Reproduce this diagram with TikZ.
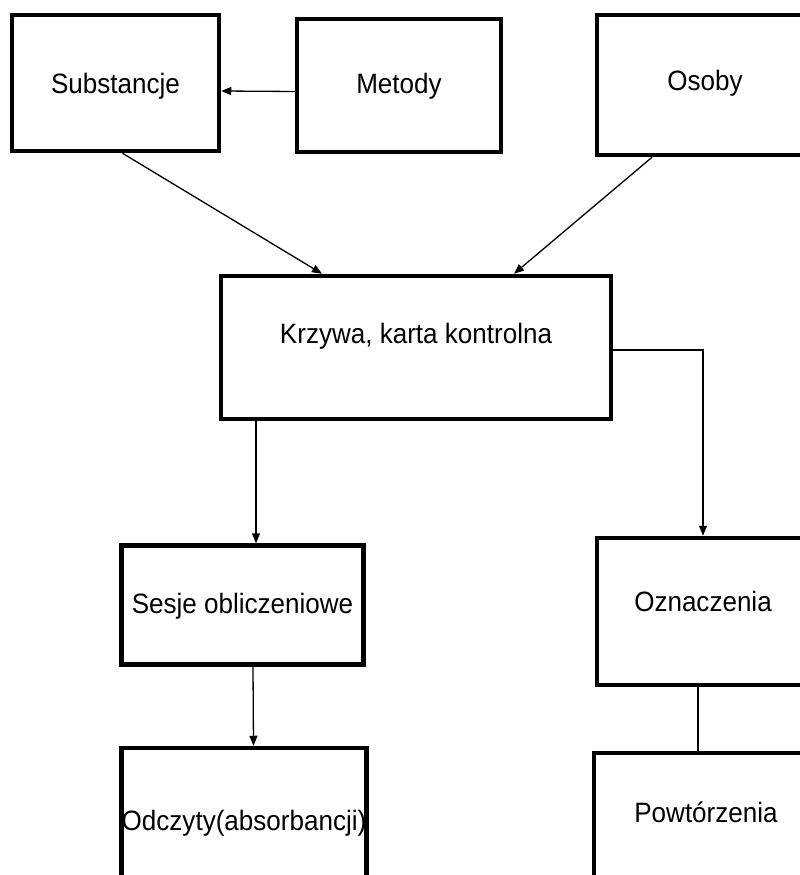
\documentclass[tikz,border=0pt]{standalone}
\usepackage{fontspec}
\newfontfamily\boxfont[FakeStretch=0.93]{Liberation Sans}
\usepackage{tikz}
\usetikzlibrary{arrows.meta}
\newcommand{\frameth}{4.5pt}
\newcommand{\linkth}{1.3pt}
\tikzset{
  box/.style={draw, line width=\frameth, rectangle, inner sep=0pt,
    font=\boxfont\fontsize{28}{30}\selectfont, text height=20pt, text depth=0pt},
  arr/.style={line width=\linkth, -{Triangle[length=10pt,width=8pt]}},
  plain/.style={line width=\linkth}
}

\begin{document}
\begin{tikzpicture}[x=1pt, y=-1pt]
\useasboundingbox (0,0) rectangle (800,875);
\fill[white] (0,0) rectangle (800,875);
\clip (0,0) rectangle (800,875);
%top row
\node[box] (subst) at (115.5, 83) [minimum width=207pt, minimum height=136pt] {Substancje};
\node[box] (metody) at (399, 85.5) [minimum width=204pt, minimum height=133pt, text depth=5pt] {Metody};
\node[box] (osoby) at (705, 85) [minimum width=216pt, minimum height=140pt, text depth=10pt] {Osoby};
%middle
\node[box] (krzywa) at (416, 347.5) [minimum width=390pt, minimum height=143pt, text depth=29pt] {Krzywa, karta kontrolna};
%left column
\node[box] (sesje) at (242.5, 605) [minimum width=242pt, minimum height=119pt, text depth=4pt] {Sesje obliczeniowe};
\node[box] (odczyty) at (244, 820) [minimum width=245pt, minimum height=144pt] {Odczyty(absorbancji)};
%right column
\node[box] (oznacz) at (703, 611.5) [minimum width=212pt, minimum height=147pt, text depth=20pt] {Oznaczenia};
\node[box] (powt) at (706, 833) [minimum width=224pt, minimum height=160pt, text depth=42pt] {Powtórzenia};
%links
\draw[arr] ([yshift=-6pt]metody.west) -- ([yshift=-8pt]subst.east);
\draw[arr] ([xshift=7pt]subst.south) -- ([xshift=-94pt]krzywa.north);
\draw[arr] ([xshift=-53pt]osoby.south) -- ([xshift=98pt]krzywa.north);
\draw[arr] ([yshift=-2.5pt]krzywa.east) -| (oznacz.north);
\draw[arr] ([xshift=-160pt]krzywa.south) -- ([xshift=13.5pt]sesje.north);
\draw[arr] ([xshift=10.5pt]sesje.south) -- ([xshift=9.5pt]odczyty.north);
\draw[plain] ([xshift=-5pt]oznacz.south) -- ([xshift=-8pt]powt.north);
\end{tikzpicture}
\end{document}
